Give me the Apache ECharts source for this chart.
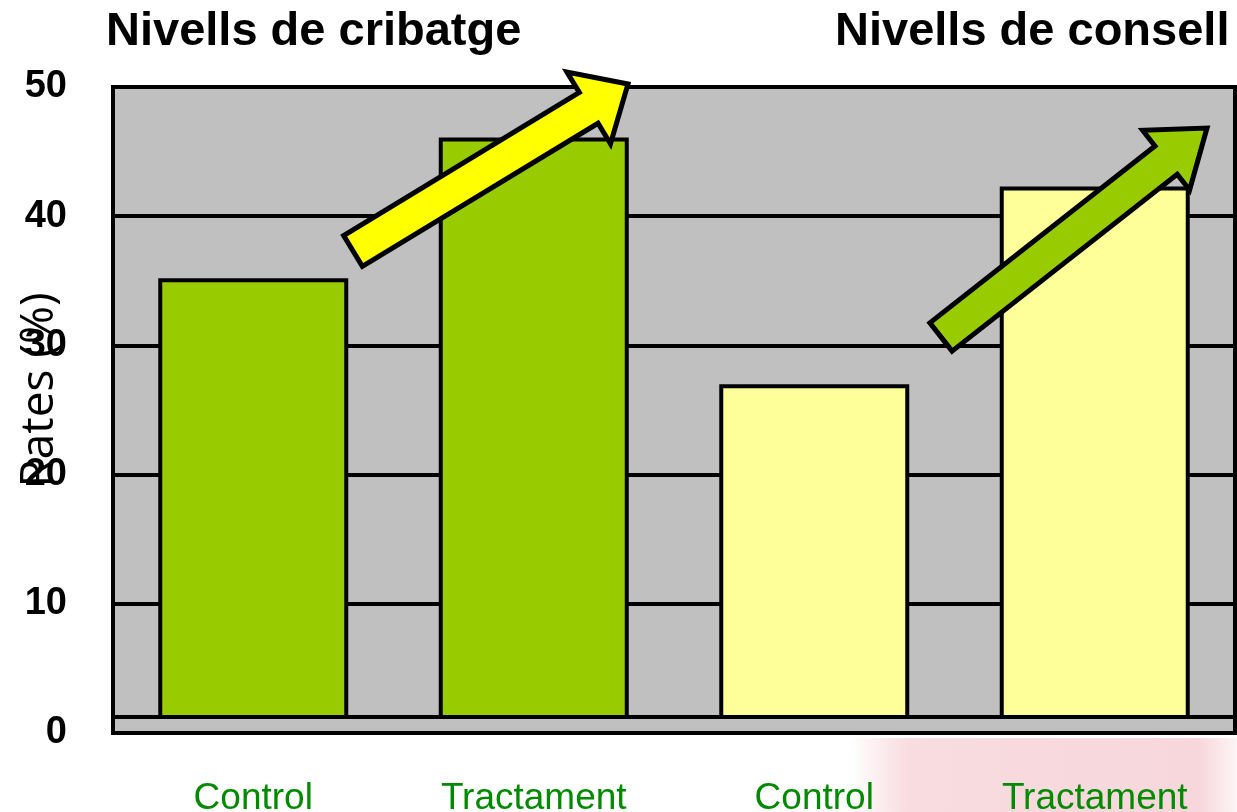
<!DOCTYPE html>
<html>
<head>
<meta charset="utf-8">
<title>Nivells de cribatge i de consell</title>
<script src="https://cdn.jsdelivr.net/npm/echarts@6/dist/echarts.min.js"></script>
<style>
  html, body { margin: 0; padding: 0; background: #ffffff; }
  #chart { width: 1237px; height: 812px; }
</style>
</head>
<body>
<div id="chart"></div>
<script>
// Categories along the x axis (two groups: screening and counselling)
const categories = ['Control', 'Tractament', 'Control', 'Tractament'];
// Rates (%) per bar
const rates = [35.2, 46.1, 27.0, 42.3];
// Group of each bar: 0 = cribatge, 1 = consell
const groups = [0, 0, 1, 1];
const groupTitles = ['Nivells de cribatge', 'Nivells de consell'];
const yTicks = { min: 0, max: 50, interval: 10 };
const yName = 'Rates (%)';

const groupColors = ['#99CC00', '#FFFF99'];
const arrowColors = ['#FFFF00', '#99CC00'];

const chart = echarts.init(document.getElementById('chart'), null, { renderer: 'canvas' });

const option = {
  backgroundColor: '#ffffff',
  animation: false,
  title: [
    { text: groupTitles[0], left: 101, top: 4,
      textStyle: { fontFamily: 'Liberation Sans', fontWeight: 'bold', fontSize: 47, color: '#000' } },
    { text: groupTitles[1], left: 830, top: 4,
      textStyle: { fontFamily: 'Liberation Sans', fontWeight: 'bold', fontSize: 47, color: '#000' } }
  ],
  grid: {
    left: 113, right: 2, top: 87, bottom: 79,
    containLabel: false,
    outerBoundsMode: 'none',
    show: true, backgroundColor: '#C0C0C0', borderColor: '#000', borderWidth: 4
  },
  xAxis: {
    type: 'category',
    data: categories,
    axisLine: { show: false },
    axisTick: { show: false },
    axisLabel: {
      margin: 47, fontFamily: 'Liberation Sans', fontSize: 37, color: '#008A00'
    }
  },
  yAxis: {
    type: 'value',
    min: yTicks.min, max: yTicks.max, interval: yTicks.interval,
    name: yName,
    nameLocation: 'middle',
    nameGap: 50,
    nameMoveOverlap: false,
    nameTextStyle: { fontFamily: 'Open Sans', fontSize: 46, color: '#000', padding: [0, 0, 0, 40] },
    axisLine: { show: false },
    axisTick: { show: false },
    axisLabel: {
      margin: 46, fontFamily: 'Liberation Sans', fontWeight: 'bold', fontSize: 38, color: '#000'
    },
    splitLine: { show: true, lineStyle: { color: '#000', width: 4 } }
  },
  series: [{
    type: 'bar',
    barWidth: 190,
    data: rates.map((v, i) => ({
      value: v,
      itemStyle: { color: groupColors[groups[i]], borderColor: '#000', borderWidth: 4 }
    }))
  }]
};

chart.setOption(option);

// Decorations: the floor slab under the bars, trend arrows and a faint backdrop
function arrowPolygon(tail, tip, shaftHalf, headHalf, headLen) {
  const dx = tip[0] - tail[0], dy = tip[1] - tail[1];
  const len = Math.hypot(dx, dy);
  const ux = dx / len, uy = dy / len;
  const nx = -uy, ny = ux;
  const bx = tip[0] - ux * headLen, by = tip[1] - uy * headLen;
  return [
    [tail[0] + nx * shaftHalf, tail[1] + ny * shaftHalf],
    [bx + nx * shaftHalf, by + ny * shaftHalf],
    [bx + nx * headHalf, by + ny * headHalf],
    tip,
    [bx - nx * headHalf, by - ny * headHalf],
    [bx - nx * shaftHalf, by - ny * shaftHalf],
    [tail[0] - nx * shaftHalf, tail[1] - ny * shaftHalf]
  ];
}

const zeroY = chart.convertToPixel({ yAxisIndex: 0 }, 0);
const gridLeft = 113, gridRight = 1237 - 2;

chart.setOption({
  graphic: [
    {
      type: 'rect', z: -10, silent: true,
      shape: { x: 850, y: 738, width: 387, height: 74 },
      style: {
        fill: new echarts.graphic.LinearGradient(0, 0, 1, 0, [
          { offset: 0, color: 'rgba(245,205,210,0)' },
          { offset: 0.15, color: 'rgba(245,205,210,0.7)' },
          { offset: 0.9, color: 'rgba(245,205,210,0.8)' },
          { offset: 1, color: 'rgba(245,205,210,0.2)' }
        ])
      }
    },
    {
      type: 'rect', z: 50, silent: true,
      shape: { x: gridLeft, y: zeroY - 16, width: gridRight - gridLeft, height: 16 },
      style: { fill: '#C0C0C0', stroke: '#000', lineWidth: 4 }
    },
    {
      type: 'polygon', z: 60, silent: true,
      shape: { points: arrowPolygon([353, 251], [628, 84], 18, 42, 46) },
      style: { fill: arrowColors[0], stroke: '#000', lineWidth: 5, lineJoin: 'miter' }
    },
    {
      type: 'polygon', z: 60, silent: true,
      shape: { points: arrowPolygon([941, 337], [1207, 128], 18, 38, 52) },
      style: { fill: arrowColors[1], stroke: '#000', lineWidth: 5, lineJoin: 'miter' }
    }
  ]
});
</script>
</body>
</html>
